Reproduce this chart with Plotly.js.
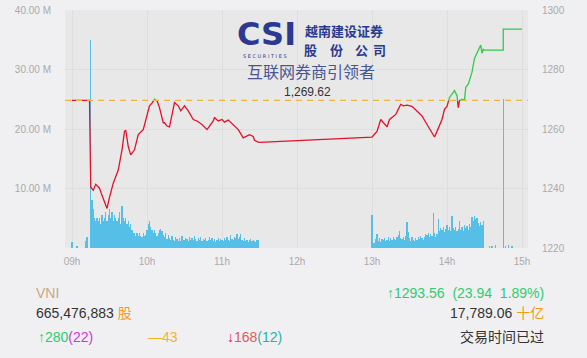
<!DOCTYPE html>
<html><head><meta charset="utf-8">
<script src="https://cdn.plot.ly/plotly-3.0.1.min.js"></script>
<style>html,body{margin:0;padding:0;background:#f0f0f2;}#chart{width:587px;height:358px;}</style>
</head><body><div id="chart"></div>
<script>
// ---------------- data ----------------
const refPrice = 1269.62;
const priceTimes = ['09:00','09:14','09:15','09:17','09:19','09:22','09:24','09:28','09:30','09:33','09:37','09:40','09:42','09:43','09:45','09:47','09:50','09:53','09:57',
 '10:00','10:02','10:04','10:06','10:08','10:10','10:13','10:14','10:16','10:18','10:20','10:22','10:25','10:27','10:30','10:33','10:37','10:40','10:44','10:48','10:50','10:53','10:54','10:57',
 '11:00','11:02','11:05','11:09','11:13','11:17','11:20','11:22','11:25','11:26','11:29','11:30',
 '13:00','13:04','13:07','13:09','13:12','13:14','13:17','13:19','13:21','13:23','13:25','13:28','13:32','13:36','13:40','13:44','13:47','13:50','13:52','13:56','13:58',
 '14:00','14:02','14:04','14:06','14:08','14:09','14:10','14:12','14:14','14:15','14:17','14:20','14:22','14:25','14:27','14:28','14:29','14:30','14:45','14:45','15:00'];
const priceValues = [1269.62,1269.62,1240.5,1239.4,1241.4,1240.1,1237.7,1233.3,1237.0,1241.8,1246.2,1253.0,1259.2,1259.6,1254.1,1251.3,1253.0,1258.1,1259.8,
 1264.4,1267.8,1268.7,1270.0,1269.5,1267.2,1262.1,1262.1,1261.0,1260.7,1265.5,1268.9,1267.8,1266.1,1267.8,1266.1,1263.2,1262.7,1261.5,1259.8,1261.0,1262.7,1263.8,1262.7,
 1263.2,1262.3,1263.0,1261.5,1259.8,1257.0,1257.5,1258.1,1257.5,1256.2,1255.6,1255.5,
 1257.3,1259.2,1263.2,1262.1,1260.7,1263.2,1264.4,1264.9,1266.6,1268.3,1267.8,1268.0,1267.6,1266.1,1264.4,1261.5,1259.2,1257.3,1259.2,1263.2,1266.6,
 1267.6,1270.6,1271.7,1272.9,1271.2,1267.2,1269.5,1270.0,1269.8,1274.0,1275.1,1279.1,1283.7,1286.5,1288.2,1285.4,1286.8,1286.5,1286.5,1293.56,1293.56];

// volume, millions of shares
const preVolTimes = ['09:00','09:04','09:11','09:12','09:15'];
const preVolValues = [1.0,0.3,1.2,1.9,35.0];
const amVolStart = '09:16';
const amVolValues = [8,6.5,5,4.5,5,
 4.5,5,4,5.5,4.5,5,6,4.5,5.5,6.5,
 5,6,4.5,5.5,5,4.5,5,6,4,7,
 5,4.5,5,4,4.5,3.5,4,3,2.5,2.5,
 2,2.5,2,2.5,2,1.8,2.5,2,2.2,3,
 4,4.5,3.5,3,2.5,3,2.5,2,2.5,3,
 3.2,2.8,2.2,1.8,2.5,1.5,2.2,1.6,1.3,2.0,
 1.4,1.2,1.8,1.5,1.1,1.6,1.2,2.0,1.4,1.3,
 1.7,1.5,1.2,1.9,1.4,1.6,1.3,2.1,1.5,1.2,
 1.6,1.4,1.8,1.2,1.5,1.3,1.7,1.1,1.4,1.9,
 1.3,1.6,1.2,1.5,1.0,1.4,1.7,1.2,1.5,1.3,
 1.1,1.6,1.3,1.9,1.4,1.2,2.2,1.5,1.3,1.8,
 1.6,2.4,1.5,1.9,2.3,1.4,1.2,1.6,1.1,1.4,
 1.0,1.3,1.5,1.1,1.4,1.2,1.0,1.3,1.4];
const pmVolStart = '13:00';
const pmVolValues = [5.5,0.8,0.9,1.5,2.4,1.2,1.6,1.0,1.5,1.3,
 1.7,1.1,1.4,1.8,1.2,1.6,1.3,1.9,1.5,1.4,
 1.8,2.2,2.9,1.7,1.5,1.9,1.3,2.0,4.3,2.7,
 1.6,1.2,1.8,1.4,1.1,1.7,1.3,1.9,1.5,2.0,
 1.6,1.4,1.9,2.4,2.2,2.6,1.8,2.3,2.0,5.8,
 2.5,1.9,2.3,4.9,2.8,3.3,3.0,3.5,2.7,3.2,
 3.8,3.0,3.6,2.9,5.3,3.3,3.0,3.5,2.8,3.2,
 4.6,3.1,3.6,2.9,3.9,3.4,3.7,3.0,4.0,3.5,
 5.2,4.6,5.3,4.8,5.1,4.2,3.7,4.4,3.8,4.5];
const postVolTimes = ['14:34','14:36','14:39','14:45','14:47','14:49','14:52'];
const postVolValues = [0.4,0.3,0.5,25.0,0.4,0.5,0.3];

const xTickTimes = ['09:00','10:00','11:00','12:00','13:00','14:00','15:00'];
const xTickText = ['09h','10h','11h','12h','13h','14h','15h'];
const volTickVals = [10,20,30,40];
const volTickText = ['10.00 M','20.00 M','30.00 M','40.00 M'];
const priceTickVals = [1220,1240,1260,1280,1300];

// ---------------- helpers ----------------
function T(hm){const [h,m]=hm.split(':').map(Number);return Date.UTC(2024,0,2,h,m);}
function seq(start,n){const t0=T(start);return Array.from({length:n},(_,i)=>t0+i*60000);}

const volX = [].concat(preVolTimes.map(T), seq(amVolStart,amVolValues.length), seq(pmVolStart,pmVolValues.length), postVolTimes.map(T));
const volY = [].concat(preVolValues, amVolValues, pmVolValues, postVolValues);

// split price line into below/above reference parts
const px = priceTimes.map(T), pv = priceValues;
const red={x:[],y:[]}, green={x:[],y:[]};
let side = pv[0] > refPrice ? green : red;
side.x.push(px[0]); side.y.push(pv[0]);
for(let i=1;i<pv.length;i++){
  const ns = pv[i] > refPrice ? green : red;
  if(ns!==side){
    const f=(refPrice-pv[i-1])/(pv[i]-pv[i-1]);
    const tc=px[i-1]+f*(px[i]-px[i-1]);
    side.x.push(tc); side.y.push(refPrice);
    side.x.push(null); side.y.push(null);
    ns.x.push(tc); ns.y.push(refPrice);
    side=ns;
  }
  side.x.push(px[i]); side.y.push(pv[i]);
}

const L=65,R=528,TOP=10,BOT=248;
function P(x,y){return {x:(x-L)/(R-L), y:(BOT-y)/(BOT-TOP)};}
function ann(text,x,y,xa,opts){const p=P(x,y);return Object.assign({text:text,xref:'paper',yref:'paper',x:p.x,y:p.y,xanchor:xa,yanchor:'middle',showarrow:false,borderpad:0,font:{size:14,color:'#333'}},opts||{});}

const navy='#2b3990';
const cjk='Noto Sans CJK SC, sans-serif';
const annotations=[
  ann('CSI',266,34.5,'center',{font:{family:'DejaVu Sans',size:32,color:navy,weight:'bold'}}),
  ann('S E C U R I T I E S',265,56,'center',{font:{family:'DejaVu Sans',size:5,color:navy}}),
  ann('越南建设证券',343.5,30,'center',{font:{family:cjk,size:13,color:navy,weight:'bold'}}),
  ann('股',310,50,'center',{font:{family:cjk,size:13,color:navy,weight:'bold'}}),
  ann('份',336.5,50,'center',{font:{family:cjk,size:13,color:navy,weight:'bold'}}),
  ann('公',361,50,'center',{font:{family:cjk,size:13,color:navy,weight:'bold'}}),
  ann('司',379,50,'center',{font:{family:cjk,size:13,color:navy,weight:'bold'}}),
  ann('互联网券商引领者',311,71,'center',{font:{family:cjk,size:16,color:'#4a5590'}}),
  ann('1,269.62',307.5,92,'center',{font:{size:12,color:'#333'}}),
  ann('VNI',35,293,'left',{font:{size:14,color:'#c8a882'}}),
  ann('665,476,883 <span style="color:#f39c12">股</span>',35,313,'left'),
  ann('<span style="color:#2ecc71">↑280</span><span style="color:#d633d6">(22)</span>',37,337,'left'),
  ann('<span style="color:#f0b429">—43</span>',147,337,'left'),
  ann('<span style="color:#e0142c">↓</span><span style="color:#e05a5a">168</span><span style="color:#1fb5a8">(12)</span>',226,337,'left'),
  ann('<span style="color:#2ecc71">↑1293.56  (23.94  1.89%)</span>',545,293,'right'),
  ann('17,789.06 <span style="color:#f39c12">十亿</span>',545,313,'right'),
  ann('交易时间已过',545,337,'right')
];

const tickFont={size:10,color:'#aaaaaa'};
const traces=[
  {type:'bar',x:volX,y:volY,width:56000,marker:{color:'#55bfe8',line:{width:0}},yaxis:'y',hoverinfo:'skip'},
  {type:'scatter',mode:'lines',x:red.x,y:red.y,yaxis:'y2',line:{color:'#e3122b',width:1.3},connectgaps:false,hoverinfo:'skip'},
  {type:'scatter',mode:'lines',x:green.x,y:green.y,yaxis:'y2',line:{color:'#33c94a',width:1.3},connectgaps:false,hoverinfo:'skip'}
];
const layout={
  width:587,height:358,margin:{l:L,r:587-R,t:TOP,b:358-BOT},
  paper_bgcolor:'#f0f0f2',plot_bgcolor:'#e8e8e8',showlegend:false,bargap:0,
  font:{family:'Liberation Sans, Arial, Noto Sans CJK SC, sans-serif'},
  xaxis:{type:'date',range:[T('09:00')-5.6*60000,T('15:00')+4.8*60000],tickvals:xTickTimes.map(T),ticktext:xTickText,
    showgrid:true,gridcolor:'#dedede',gridwidth:1,zeroline:false,showline:false,ticks:'',tickfont:tickFont,ticklabelstandoff:6},
  yaxis:{range:[0,40],tickvals:volTickVals,ticktext:volTickText,showgrid:false,zeroline:false,showline:false,ticks:'',tickfont:tickFont,ticklabelstandoff:13},
  yaxis2:{overlaying:'y',side:'right',range:[1220,1300],tickvals:priceTickVals,showgrid:true,gridcolor:'#dedede',zeroline:false,showline:false,ticks:'',tickfont:tickFont,ticklabelstandoff:13},
  shapes:[{type:'line',xref:'paper',x0:0,x1:1,yref:'y2',y0:refPrice,y1:refPrice,line:{color:'#f2b441',width:1.3,dash:'6px,5px'}}],
  annotations:annotations
};
Plotly.newPlot('chart',traces,layout,{staticPlot:true,displayModeBar:false});
</script></body></html>
